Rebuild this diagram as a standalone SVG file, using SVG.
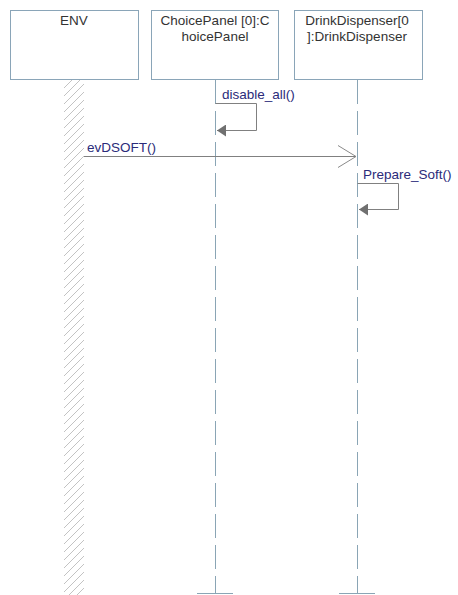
<svg xmlns="http://www.w3.org/2000/svg" width="458" height="595" viewBox="0 0 458 595">
<defs>
<pattern id="hatch" patternUnits="userSpaceOnUse" width="8" height="8">
<path d="M0,8 L8,0 M-2,2 L2,-2 M6,10 L10,6" stroke="#b4b4b4" stroke-width="0.8" fill="none"/>
</pattern>
<marker id="open" markerWidth="20" markerHeight="24" refX="19" refY="12" orient="auto" markerUnits="userSpaceOnUse">
<path d="M1,1 L19,12 L1,23" fill="none" stroke="#8a8a8a" stroke-width="1"/>
</marker>
<marker id="filled" markerWidth="10" markerHeight="12" refX="9" refY="6" orient="auto" markerUnits="userSpaceOnUse">
<path d="M0,0 L9,6 L0,12 Z" fill="#707070"/>
</marker>
</defs>
<style>
.box{fill:#fff;stroke:#8aa5b8;stroke-width:1}
.name{font-family:"Liberation Sans",Arial,sans-serif;font-size:13.5px;fill:#333;text-anchor:middle}
.life{stroke:#8aa5b5;stroke-width:1;stroke-dasharray:24 7;fill:none}
.tick{stroke:#8aa5b5;stroke-width:1}
.msg{font-family:"Liberation Sans",Arial,sans-serif;font-size:13.5px;fill:#2b2b7a}
.mline{stroke:#808080;stroke-width:1;fill:none}
</style>
<rect width="458" height="595" fill="#fff"/>
<g id="ENV">
<rect class="box" x="10.5" y="10.5" width="128" height="69"/>
<rect x="64" y="80" width="20" height="515" fill="url(#hatch)"/>
<text class="name" x="74" y="25">ENV</text>
</g>
<g id="ChoicePanel">
<rect class="box" x="151.5" y="10.5" width="127" height="69"/>
<text class="name" x="215" y="25">ChoicePanel [0]:C</text>
<text class="name" x="215" y="41">hoicePanel</text>
<line class="life" x1="215.5" y1="80" x2="215.5" y2="593"/>
<line class="tick" x1="197" y1="593.5" x2="233" y2="593.5"/>
</g>
<g id="DrinkDispenser">
<rect class="box" x="294.5" y="10.5" width="128" height="69"/>
<text class="name" x="357" y="25">DrinkDispenser[0</text>
<text class="name" x="357" y="41">]:DrinkDispenser</text>
<line class="life" x1="357.5" y1="80" x2="357.5" y2="593"/>
<line class="tick" x1="339" y1="593.5" x2="375" y2="593.5"/>
</g>
<g id="connectors">
<polyline class="mline" points="215.5,103.5 256.5,103.5 256.5,130.5 217,130.5" marker-end="url(#filled)"/>
<text class="msg" x="222" y="99">disable_all()</text>
<line class="mline" x1="84" y1="156.5" x2="356" y2="156.5" marker-end="url(#open)"/>
<text class="msg" x="87" y="152">evDSOFT()</text>
<polyline class="mline" points="357.5,183.5 398.5,183.5 398.5,209.5 359,209.5" marker-end="url(#filled)"/>
<text class="msg" x="363" y="179">Prepare_Soft()</text>
</g>
</svg>
